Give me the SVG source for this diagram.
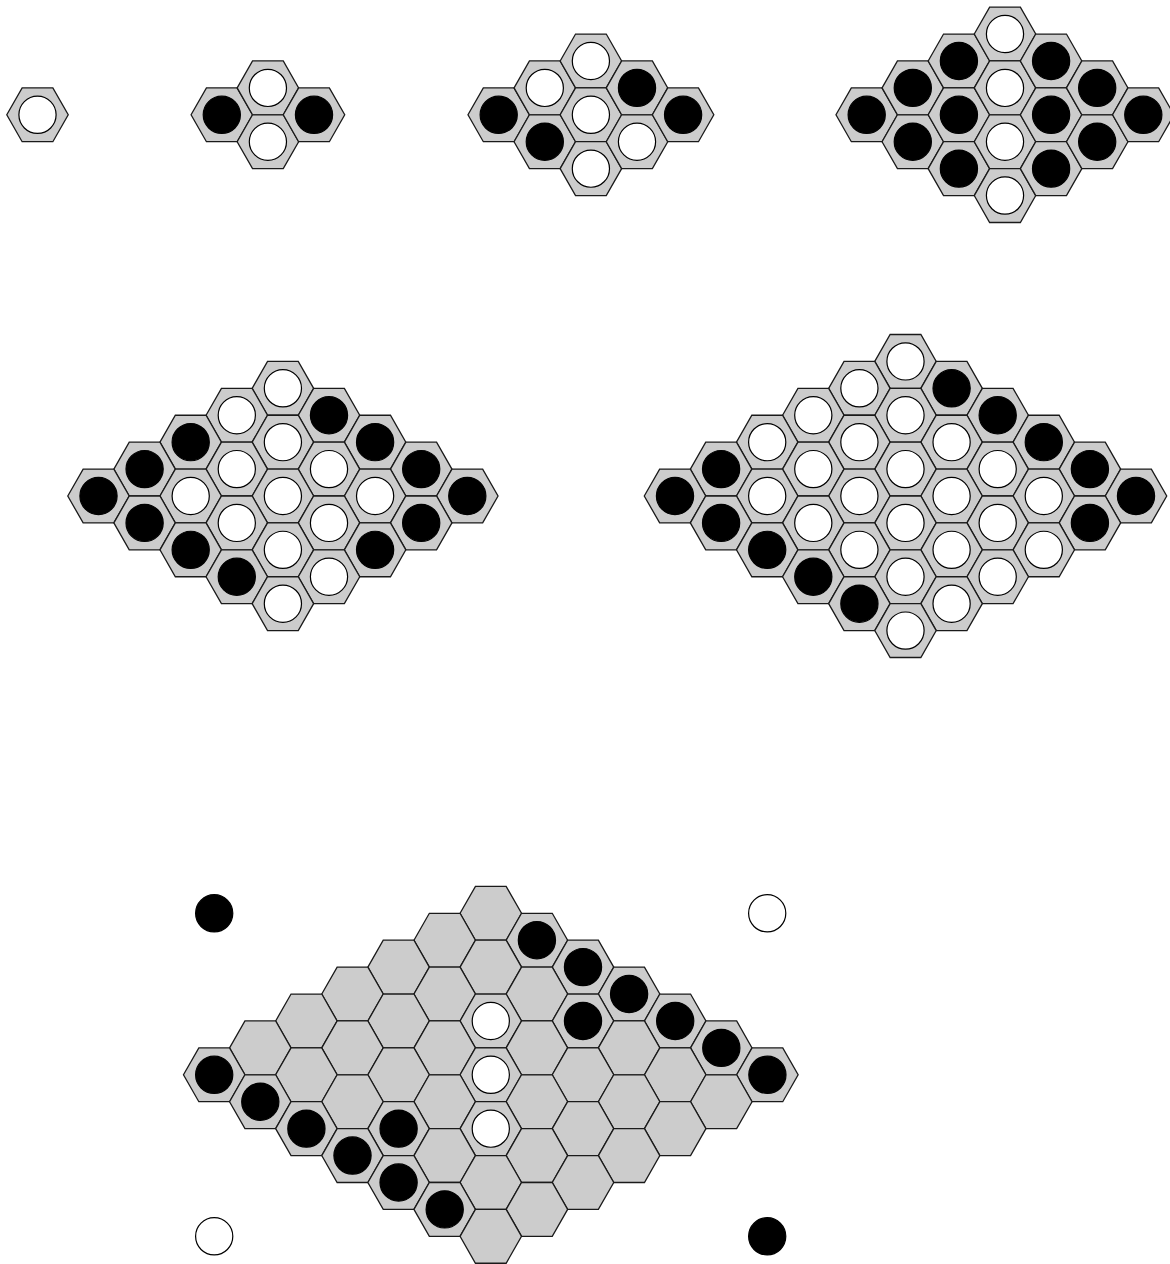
<svg xmlns="http://www.w3.org/2000/svg" xmlns:xlink="http://www.w3.org/1999/xlink" width="1170" height="1264" viewBox="0 0 1170 1264">
<style>
.h{fill:#cccccc;stroke:#1a1a1a;stroke-width:1.3;stroke-linejoin:miter}
.b{fill:#000;stroke:#000;stroke-width:1.2}
.w{fill:#fff;stroke:#000;stroke-width:1.2}
</style>
<defs>
<path id="hex" class="h" d="M-30.73,0 L-15.36,-26.92 L15.36,-26.92 L30.73,0 L15.36,26.92 L-15.36,26.92 Z"/>
</defs>
<rect width="1170" height="1264" fill="#fff"/>

<g id="board1">
<use href="#hex" x="37.5" y="114.8"/>
<circle class="w" cx="37.5" cy="114.8" r="18.6"/>
</g>

<g id="board2">
<use href="#hex" x="221.8" y="114.8"/><use href="#hex" x="267.9" y="87.88"/><use href="#hex" x="267.9" y="141.72"/><use href="#hex" x="314.0" y="114.8"/>
<circle class="b" cx="221.8" cy="114.8" r="18.6"/>
<circle class="w" cx="267.9" cy="87.88" r="18.6"/>
<circle class="w" cx="267.9" cy="141.72" r="18.6"/>
<circle class="b" cx="314.0" cy="114.8" r="18.6"/>
</g>

<g id="board3">
<use href="#hex" x="498.7" y="114.8"/><use href="#hex" x="544.8" y="87.88"/><use href="#hex" x="590.9" y="60.96"/>
<use href="#hex" x="544.8" y="141.72"/><use href="#hex" x="590.9" y="114.8"/><use href="#hex" x="637.0" y="87.88"/>
<use href="#hex" x="590.9" y="168.64"/><use href="#hex" x="637.0" y="141.72"/><use href="#hex" x="683.1" y="114.8"/>
<circle class="b" cx="498.7" cy="114.8" r="18.6"/>
<circle class="w" cx="544.8" cy="87.88" r="18.6"/>
<circle class="w" cx="590.9" cy="60.96" r="18.6"/>
<circle class="b" cx="544.8" cy="141.72" r="18.6"/>
<circle class="w" cx="590.9" cy="114.8" r="18.6"/>
<circle class="b" cx="637.0" cy="87.88" r="18.6"/>
<circle class="w" cx="590.9" cy="168.64" r="18.6"/>
<circle class="w" cx="637.0" cy="141.72" r="18.6"/>
<circle class="b" cx="683.1" cy="114.8" r="18.6"/>
</g>

<g id="board4">
<use href="#hex" x="866.7" y="114.8"/><use href="#hex" x="912.8" y="87.88"/><use href="#hex" x="958.9" y="60.96"/><use href="#hex" x="1005.0" y="34.04"/>
<use href="#hex" x="912.8" y="141.72"/><use href="#hex" x="958.9" y="114.8"/><use href="#hex" x="1005.0" y="87.88"/><use href="#hex" x="1051.1" y="60.96"/>
<use href="#hex" x="958.9" y="168.64"/><use href="#hex" x="1005.0" y="141.72"/><use href="#hex" x="1051.1" y="114.8"/><use href="#hex" x="1097.2" y="87.88"/>
<use href="#hex" x="1005.0" y="195.56"/><use href="#hex" x="1051.1" y="168.64"/><use href="#hex" x="1097.2" y="141.72"/><use href="#hex" x="1143.3" y="114.8"/>
<circle class="b" cx="866.7" cy="114.8" r="18.6"/>
<circle class="b" cx="912.8" cy="87.88" r="18.6"/>
<circle class="b" cx="958.9" cy="60.96" r="18.6"/>
<circle class="w" cx="1005.0" cy="34.04" r="18.6"/>
<circle class="b" cx="912.8" cy="141.72" r="18.6"/>
<circle class="b" cx="958.9" cy="114.8" r="18.6"/>
<circle class="w" cx="1005.0" cy="87.88" r="18.6"/>
<circle class="b" cx="1051.1" cy="60.96" r="18.6"/>
<circle class="b" cx="958.9" cy="168.64" r="18.6"/>
<circle class="w" cx="1005.0" cy="141.72" r="18.6"/>
<circle class="b" cx="1051.1" cy="114.8" r="18.6"/>
<circle class="b" cx="1097.2" cy="87.88" r="18.6"/>
<circle class="w" cx="1005.0" cy="195.56" r="18.6"/>
<circle class="b" cx="1051.1" cy="168.64" r="18.6"/>
<circle class="b" cx="1097.2" cy="141.72" r="18.6"/>
<circle class="b" cx="1143.3" cy="114.8" r="18.6"/>
</g>

<g id="board5">
<use href="#hex" x="282.9" y="388.32"/>
<use href="#hex" x="236.8" y="415.24"/><use href="#hex" x="329.0" y="415.24"/>
<use href="#hex" x="190.7" y="442.16"/><use href="#hex" x="282.9" y="442.16"/><use href="#hex" x="375.1" y="442.16"/>
<use href="#hex" x="144.6" y="469.08"/><use href="#hex" x="236.8" y="469.08"/><use href="#hex" x="329.0" y="469.08"/><use href="#hex" x="421.2" y="469.08"/>
<use href="#hex" x="98.5" y="496"/><use href="#hex" x="190.7" y="496"/><use href="#hex" x="282.9" y="496"/><use href="#hex" x="375.1" y="496"/><use href="#hex" x="467.3" y="496"/>
<use href="#hex" x="144.6" y="522.92"/><use href="#hex" x="236.8" y="522.92"/><use href="#hex" x="329.0" y="522.92"/><use href="#hex" x="421.2" y="522.92"/>
<use href="#hex" x="190.7" y="549.84"/><use href="#hex" x="282.9" y="549.84"/><use href="#hex" x="375.1" y="549.84"/>
<use href="#hex" x="236.8" y="576.76"/><use href="#hex" x="329.0" y="576.76"/>
<use href="#hex" x="282.9" y="603.68"/>
<circle class="w" cx="282.9" cy="388.32" r="18.6"/>
<circle class="w" cx="236.8" cy="415.24" r="18.6"/><circle class="b" cx="329.0" cy="415.24" r="18.6"/>
<circle class="b" cx="190.7" cy="442.16" r="18.6"/><circle class="w" cx="282.9" cy="442.16" r="18.6"/><circle class="b" cx="375.1" cy="442.16" r="18.6"/>
<circle class="b" cx="144.6" cy="469.08" r="18.6"/><circle class="w" cx="236.8" cy="469.08" r="18.6"/><circle class="w" cx="329.0" cy="469.08" r="18.6"/><circle class="b" cx="421.2" cy="469.08" r="18.6"/>
<circle class="b" cx="98.5" cy="496" r="18.6"/><circle class="w" cx="190.7" cy="496" r="18.6"/><circle class="w" cx="282.9" cy="496" r="18.6"/><circle class="w" cx="375.1" cy="496" r="18.6"/><circle class="b" cx="467.3" cy="496" r="18.6"/>
<circle class="b" cx="144.6" cy="522.92" r="18.6"/><circle class="w" cx="236.8" cy="522.92" r="18.6"/><circle class="w" cx="329.0" cy="522.92" r="18.6"/><circle class="b" cx="421.2" cy="522.92" r="18.6"/>
<circle class="b" cx="190.7" cy="549.84" r="18.6"/><circle class="w" cx="282.9" cy="549.84" r="18.6"/><circle class="b" cx="375.1" cy="549.84" r="18.6"/>
<circle class="b" cx="236.8" cy="576.76" r="18.6"/><circle class="w" cx="329.0" cy="576.76" r="18.6"/>
<circle class="w" cx="282.9" cy="603.68" r="18.6"/>
</g>

<g id="board6">
<use href="#hex" x="905.5" y="361.4"/>
<use href="#hex" x="859.4" y="388.32"/><use href="#hex" x="951.6" y="388.32"/>
<use href="#hex" x="813.3" y="415.24"/><use href="#hex" x="905.5" y="415.24"/><use href="#hex" x="997.7" y="415.24"/>
<use href="#hex" x="767.2" y="442.16"/><use href="#hex" x="859.4" y="442.16"/><use href="#hex" x="951.6" y="442.16"/><use href="#hex" x="1043.8" y="442.16"/>
<use href="#hex" x="721.1" y="469.08"/><use href="#hex" x="813.3" y="469.08"/><use href="#hex" x="905.5" y="469.08"/><use href="#hex" x="997.7" y="469.08"/><use href="#hex" x="1089.9" y="469.08"/>
<use href="#hex" x="675" y="496"/><use href="#hex" x="767.2" y="496"/><use href="#hex" x="859.4" y="496"/><use href="#hex" x="951.6" y="496"/><use href="#hex" x="1043.8" y="496"/><use href="#hex" x="1136.0" y="496"/>
<use href="#hex" x="721.1" y="522.92"/><use href="#hex" x="813.3" y="522.92"/><use href="#hex" x="905.5" y="522.92"/><use href="#hex" x="997.7" y="522.92"/><use href="#hex" x="1089.9" y="522.92"/>
<use href="#hex" x="767.2" y="549.84"/><use href="#hex" x="859.4" y="549.84"/><use href="#hex" x="951.6" y="549.84"/><use href="#hex" x="1043.8" y="549.84"/>
<use href="#hex" x="813.3" y="576.76"/><use href="#hex" x="905.5" y="576.76"/><use href="#hex" x="997.7" y="576.76"/>
<use href="#hex" x="859.4" y="603.68"/><use href="#hex" x="951.6" y="603.68"/>
<use href="#hex" x="905.5" y="630.6"/>
<circle class="w" cx="905.5" cy="361.4" r="18.6"/>
<circle class="w" cx="859.4" cy="388.32" r="18.6"/><circle class="b" cx="951.6" cy="388.32" r="18.6"/>
<circle class="w" cx="813.3" cy="415.24" r="18.6"/><circle class="w" cx="905.5" cy="415.24" r="18.6"/><circle class="b" cx="997.7" cy="415.24" r="18.6"/>
<circle class="w" cx="767.2" cy="442.16" r="18.6"/><circle class="w" cx="859.4" cy="442.16" r="18.6"/><circle class="w" cx="951.6" cy="442.16" r="18.6"/><circle class="b" cx="1043.8" cy="442.16" r="18.6"/>
<circle class="b" cx="721.1" cy="469.08" r="18.6"/><circle class="w" cx="813.3" cy="469.08" r="18.6"/><circle class="w" cx="905.5" cy="469.08" r="18.6"/><circle class="w" cx="997.7" cy="469.08" r="18.6"/><circle class="b" cx="1089.9" cy="469.08" r="18.6"/>
<circle class="b" cx="675" cy="496" r="18.6"/><circle class="w" cx="767.2" cy="496" r="18.6"/><circle class="w" cx="859.4" cy="496" r="18.6"/><circle class="w" cx="951.6" cy="496" r="18.6"/><circle class="w" cx="1043.8" cy="496" r="18.6"/><circle class="b" cx="1136.0" cy="496" r="18.6"/>
<circle class="b" cx="721.1" cy="522.92" r="18.6"/><circle class="w" cx="813.3" cy="522.92" r="18.6"/><circle class="w" cx="905.5" cy="522.92" r="18.6"/><circle class="w" cx="997.7" cy="522.92" r="18.6"/><circle class="b" cx="1089.9" cy="522.92" r="18.6"/>
<circle class="b" cx="767.2" cy="549.84" r="18.6"/><circle class="w" cx="859.4" cy="549.84" r="18.6"/><circle class="w" cx="951.6" cy="549.84" r="18.6"/><circle class="w" cx="1043.8" cy="549.84" r="18.6"/>
<circle class="b" cx="813.3" cy="576.76" r="18.6"/><circle class="w" cx="905.5" cy="576.76" r="18.6"/><circle class="w" cx="997.7" cy="576.76" r="18.6"/>
<circle class="b" cx="859.4" cy="603.68" r="18.6"/><circle class="w" cx="951.6" cy="603.68" r="18.6"/>
<circle class="w" cx="905.5" cy="630.6" r="18.6"/>
</g>

<g id="board7">
<use href="#hex" x="490.8" y="913.28"/>
<use href="#hex" x="444.7" y="940.2"/><use href="#hex" x="536.9" y="940.2"/>
<use href="#hex" x="398.6" y="967.12"/><use href="#hex" x="490.8" y="967.12"/><use href="#hex" x="583.0" y="967.12"/>
<use href="#hex" x="352.5" y="994.04"/><use href="#hex" x="444.7" y="994.04"/><use href="#hex" x="536.9" y="994.04"/><use href="#hex" x="629.1" y="994.04"/>
<use href="#hex" x="306.4" y="1020.96"/><use href="#hex" x="398.6" y="1020.96"/><use href="#hex" x="490.8" y="1020.96"/><use href="#hex" x="583.0" y="1020.96"/><use href="#hex" x="675.2" y="1020.96"/>
<use href="#hex" x="260.3" y="1047.88"/><use href="#hex" x="352.5" y="1047.88"/><use href="#hex" x="444.7" y="1047.88"/><use href="#hex" x="536.9" y="1047.88"/><use href="#hex" x="629.1" y="1047.88"/><use href="#hex" x="721.3" y="1047.88"/>
<use href="#hex" x="214.2" y="1074.8"/><use href="#hex" x="306.4" y="1074.8"/><use href="#hex" x="398.6" y="1074.8"/><use href="#hex" x="490.8" y="1074.8"/><use href="#hex" x="583.0" y="1074.8"/><use href="#hex" x="675.2" y="1074.8"/><use href="#hex" x="767.4" y="1074.8"/>
<use href="#hex" x="260.3" y="1101.72"/><use href="#hex" x="352.5" y="1101.72"/><use href="#hex" x="444.7" y="1101.72"/><use href="#hex" x="536.9" y="1101.72"/><use href="#hex" x="629.1" y="1101.72"/><use href="#hex" x="721.3" y="1101.72"/>
<use href="#hex" x="306.4" y="1128.64"/><use href="#hex" x="398.6" y="1128.64"/><use href="#hex" x="490.8" y="1128.64"/><use href="#hex" x="583.0" y="1128.64"/><use href="#hex" x="675.2" y="1128.64"/>
<use href="#hex" x="352.5" y="1155.56"/><use href="#hex" x="444.7" y="1155.56"/><use href="#hex" x="536.9" y="1155.56"/><use href="#hex" x="629.1" y="1155.56"/>
<use href="#hex" x="398.6" y="1182.48"/><use href="#hex" x="490.8" y="1182.48"/><use href="#hex" x="583.0" y="1182.48"/>
<use href="#hex" x="444.7" y="1209.4"/><use href="#hex" x="536.9" y="1209.4"/>
<use href="#hex" x="490.8" y="1236.32"/>
<circle class="b" cx="536.9" cy="940.2" r="18.6"/>
<circle class="b" cx="583.0" cy="967.12" r="18.6"/>
<circle class="b" cx="629.1" cy="994.04" r="18.6"/>
<circle class="b" cx="675.2" cy="1020.96" r="18.6"/>
<circle class="b" cx="721.3" cy="1047.88" r="18.6"/>
<circle class="b" cx="767.4" cy="1074.8" r="18.6"/>
<circle class="b" cx="583.0" cy="1020.96" r="18.6"/>
<circle class="w" cx="490.8" cy="1020.96" r="18.6"/>
<circle class="w" cx="490.8" cy="1074.8" r="18.6"/>
<circle class="w" cx="490.8" cy="1128.64" r="18.6"/>
<circle class="b" cx="214.2" cy="1074.8" r="18.6"/>
<circle class="b" cx="260.3" cy="1101.72" r="18.6"/>
<circle class="b" cx="306.4" cy="1128.64" r="18.6"/>
<circle class="b" cx="352.5" cy="1155.56" r="18.6"/>
<circle class="b" cx="398.6" cy="1128.64" r="18.6"/>
<circle class="b" cx="398.6" cy="1182.48" r="18.6"/>
<circle class="b" cx="444.7" cy="1209.4" r="18.6"/>
</g>

<g id="corner-stones">
<circle class="b" cx="214.2" cy="913.3" r="18.6"/>
<circle class="w" cx="767.2" cy="913.3" r="18.6"/>
<circle class="w" cx="214.2" cy="1236.3" r="18.6"/>
<circle class="b" cx="767.2" cy="1236.3" r="18.6"/>
</g>
</svg>
